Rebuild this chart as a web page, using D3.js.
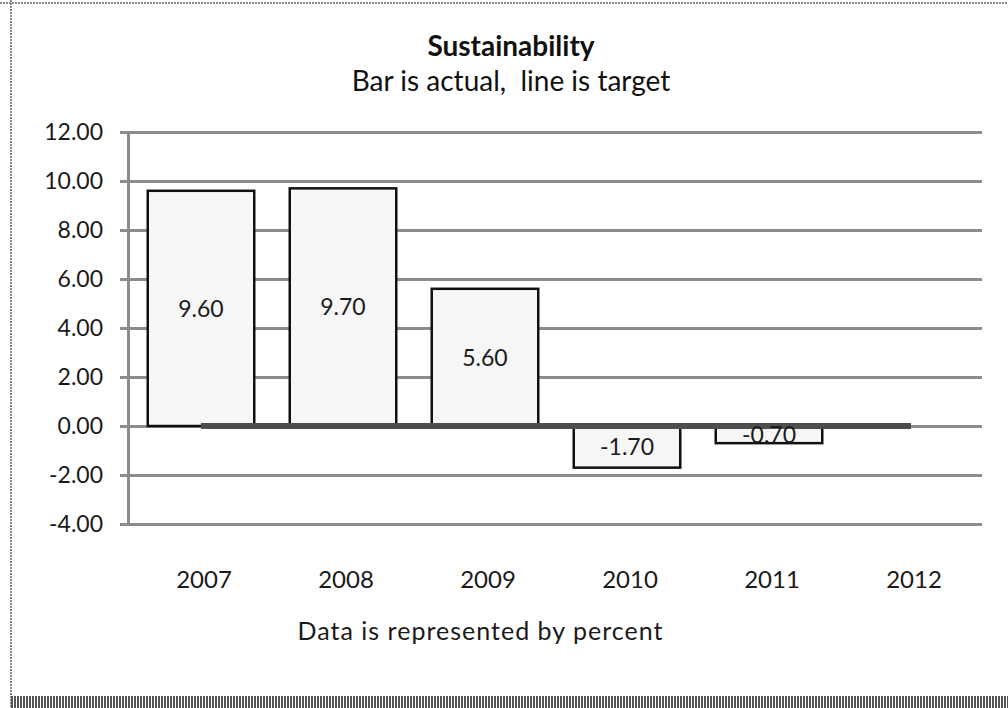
<!DOCTYPE html>
<html>
<head>
<meta charset="utf-8">
<script src="https://cdn.jsdelivr.net/npm/d3@7/dist/d3.min.js"></script>
<style>
  html, body { margin: 0; padding: 0; background: #ffffff; }
  svg { display: block; font-family: Lato, "Liberation Sans", sans-serif; }
</style>
</head>
<body>
<svg id="chart" width="1008" height="708"></svg>
<script>
// Sustainability: actual result per year (bars) against the target (line), in percent
const years = ["2007", "2008", "2009", "2010", "2011", "2012"];
const actual = [9.60, 9.70, 5.60, -1.70, -0.70, null];
const target = [0, 0, 0, 0, 0, 0];
const yTicks = [12, 10, 8, 6, 4, 2, 0, -2, -4];
const titleLines = ["Sustainability", "Bar is actual,  line is target"];
const xAxisTitle = "Data is represented by percent";

const svg = d3.select("#chart");
const W = 1008, H = 708;
const FONT = "Lato, 'Liberation Sans', sans-serif";

// plain hyphen for negative numbers
const fmt = d3.formatLocale({
  decimal: ".", thousands: ",", grouping: [3], currency: ["", ""], minus: "-"
}).format(".2f");

const plot = { left: 130, right: 982, top: 132, bottom: 524 };

const x = d3.scaleBand()
  .domain(years)
  .range([plot.left, plot.right])
  .paddingInner(0.25)
  .paddingOuter(0.125);

const y = d3.scaleLinear()
  .domain([-4, 12])
  .range([plot.bottom, plot.top]);

// frame of the chart area
svg.append("line")
  .attr("x1", 0).attr("x2", W).attr("y1", 3).attr("y2", 3)
  .attr("stroke", "#8a8a8a").attr("stroke-width", 2)
  .attr("stroke-dasharray", "2,1");
svg.append("line")
  .attr("x1", 11).attr("x2", 11).attr("y1", 0).attr("y2", H)
  .attr("stroke", "#8a8a8a").attr("stroke-width", 2)
  .attr("stroke-dasharray", "2,1");
svg.append("line")
  .attr("x1", 11).attr("x2", W).attr("y1", 702).attr("y2", 702)
  .attr("stroke", "#555").attr("stroke-width", 12)
  .attr("stroke-dasharray", "2,1");

// titles
svg.append("text")
  .attr("x", 511).attr("y", 56)
  .attr("text-anchor", "middle")
  .attr("font-size", 28).attr("font-weight", "bold")
  .attr("fill", "#111")
  .text(titleLines[0]);
svg.append("text")
  .attr("x", 511).attr("y", 91)
  .attr("text-anchor", "middle")
  .attr("font-size", 28)
  .attr("fill", "#111")
  .style("white-space", "pre")
  .text(titleLines[1]);

// gridlines and value labels
const yAxis = svg.append("g")
  .attr("transform", `translate(120,0)`)
  .call(d3.axisLeft(y)
    .tickValues(yTicks)
    .tickSize(-(plot.right - 120))
    .tickPadding(17)
    .tickFormat(fmt));
yAxis.select(".domain").remove();
yAxis.selectAll(".tick line")
  .attr("stroke", "#8c8c8c").attr("stroke-width", 3);
yAxis.selectAll(".tick text")
  .attr("font-size", 23).attr("fill", "#1a1a1a")
  .attr("font-family", FONT);

// vertical value axis
svg.append("line")
  .attr("x1", 128.5).attr("x2", 128.5)
  .attr("y1", y(12)).attr("y2", y(-4))
  .attr("stroke", "#8c8c8c").attr("stroke-width", 3);

// category labels
const xAxis = svg.append("g")
  .attr("transform", `translate(3,571)`)
  .call(d3.axisBottom(x).tickSize(0).tickPadding(0));
xAxis.select(".domain").remove();
xAxis.selectAll(".tick text")
  .attr("font-size", 24).attr("fill", "#1a1a1a")
  .attr("font-family", FONT);

// bars of actual values
const barData = years.map((yr, i) => ({ year: yr, value: actual[i] }))
  .filter(d => d.value !== null);

svg.append("g").selectAll("rect")
  .data(barData)
  .join("rect")
  .attr("x", d => x(d.year))
  .attr("width", x.bandwidth())
  .attr("y", d => y(Math.max(0, d.value)))
  .attr("height", d => Math.abs(y(d.value) - y(0)))
  .attr("fill", "#f6f6f6")
  .attr("stroke", "#111")
  .attr("stroke-width", 2.5);

// target line
const line = d3.line()
  .x((d, i) => x(years[i]) + x.bandwidth() / 2)
  .y(d => y(d));
svg.append("path")
  .datum(target)
  .attr("d", line)
  .attr("fill", "none")
  .attr("stroke", "#4d4d4d")
  .attr("stroke-width", 6);

// data labels centred in each bar
svg.append("g").selectAll("text")
  .data(barData)
  .join("text")
  .attr("x", d => x(d.year) + x.bandwidth() / 2)
  .attr("y", d => (y(0) + y(d.value)) / 2)
  .attr("dy", "0.36em")
  .attr("text-anchor", "middle")
  .attr("font-size", 23)
  .attr("fill", "#1a1a1a")
  .text(d => fmt(d.value));

// axis title
svg.append("text")
  .attr("x", 480).attr("y", 640)
  .attr("text-anchor", "middle")
  .attr("font-size", 25)
  .attr("fill", "#1a1a1a")
  .attr("textLength", 365)
  .attr("lengthAdjust", "spacing")
  .text(xAxisTitle);
</script>
</body>
</html>
